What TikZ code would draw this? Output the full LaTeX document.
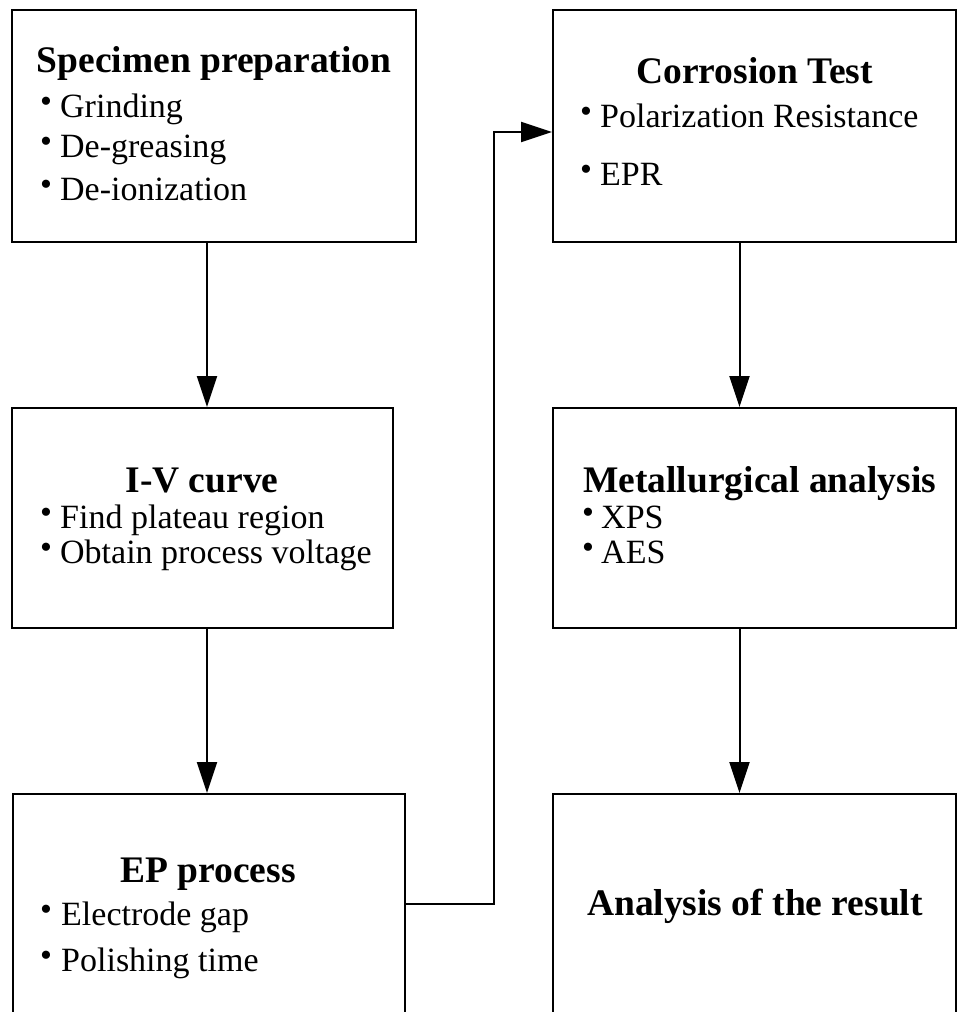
\documentclass[tikz,border=0pt]{standalone}
\usepackage{fontspec}
\setmainfont{Liberation Serif}
\usetikzlibrary{arrows.meta}

\tikzset{
  box/.style={draw, rectangle, line width=2pt, inner sep=0pt},
  ttl/.style={font=\bfseries\fontsize{37.5}{40}\selectfont, anchor=base, inner sep=0pt},
  ttlw/.style={ttl, anchor=base west},
  itm/.style={font=\fontsize{34}{36}\selectfont, anchor=base west, inner sep=0pt},
  dot/.style={font=\fontsize{34}{36}\selectfont, anchor=base west, inner sep=0pt},
  arr/.style={line width=2pt, -{Triangle[length=31pt,width=20pt]}}
}

\begin{document}
\begin{tikzpicture}[x=1pt, y=-1pt]
  \clip (0,0) rectangle (958,1012);
  \fill[white] (0,0) rectangle (958,1012);

  % boxes: left column
  \node[box, minimum width=404pt, minimum height=232pt] (s1) at (214,126) {};
  \node[box, minimum width=381pt, minimum height=220pt] (iv) at (202.5,518) {};
  \node[box, minimum width=392pt, minimum height=250pt] (ep) at (209,919) {};
  % boxes: right column
  \node[box, minimum width=403pt, minimum height=232pt] (ct) at (754.5,126) {};
  \node[box, minimum width=403pt, minimum height=220pt] (ma) at (754.5,518) {};
  \node[box, minimum width=403pt, minimum height=250pt] (ar) at (754.5,919) {};

  % specimen preparation
  \node[ttl] (s1t) at (214,72) {Specimen preparation};
  \node[dot] (s1d1) at (40,112) {•};
  \node[itm] (s1i1) at (60,117) {Grinding};
  \node[dot] (s1d2) at (40,152) {•};
  \node[itm] (s1i2) at (60,157) {De-greasing};
  \node[dot] (s1d3) at (40,195) {•};
  \node[itm] (s1i3) at (60,200) {De-ionization};

  % I-V curve
  \node[ttl] (ivt) at (202,492) {I-V curve};
  \node[dot] (ivd1) at (40,523) {•};
  \node[itm] (ivi1) at (60,528) {Find plateau region};
  \node[dot] (ivd2) at (40,558) {•};
  \node[itm] (ivi2) at (60,563) {Obtain process voltage};

  % EP process
  \node[ttl] (ept) at (208,882) {EP process};
  \node[dot] (epd1) at (40,920) {•};
  \node[itm] (epi1) at (61,925) {Electrode gap};
  \node[dot] (epd2) at (40,966) {•};
  \node[itm] (epi2) at (61,971) {Polishing time};

  % corrosion test
  \node[ttl] (ctt) at (754.5,83) {Corrosion Test};
  \node[dot] (ctd1) at (580,122) {•};
  \node[itm] (cti1) at (600,127) {Polarization Resistance};
  \node[dot] (ctd2) at (580,180) {•};
  \node[itm] (cti2) at (600,185) {EPR};

  % metallurgical analysis
  \node[ttlw] (mat) at (583,492) {Metallurgical analysis};
  \node[dot] (mad1) at (582,523) {•};
  \node[itm] (mai1) at (601,528) {XPS};
  \node[dot] (mad2) at (582,558) {•};
  \node[itm] (mai2) at (601,563) {AES};

  % analysis of the result
  \node[ttl] (art) at (755,915) {Analysis of the result};

  % connectors
  \draw[arr] ([xshift=-7pt]s1.south) -- ([xshift=-7pt]s1.south |- iv.north);
  \draw[arr] ([xshift=4.5pt]iv.south) -- ([xshift=4.5pt]iv.south |- ep.north);
  \draw[arr] ([xshift=-15pt]ct.south) -- ([xshift=-15pt]ct.south |- ma.north);
  \draw[arr] ([xshift=-15pt]ma.south) -- ([xshift=-15pt]ma.south |- ar.north);

  \coordinate (jog) at (494,904);
  \coordinate (rise) at (494,132);
  \draw[arr] (jog -| ep.east) -- (jog) -- (rise) -- (rise -| ct.west);
\end{tikzpicture}
\end{document}
